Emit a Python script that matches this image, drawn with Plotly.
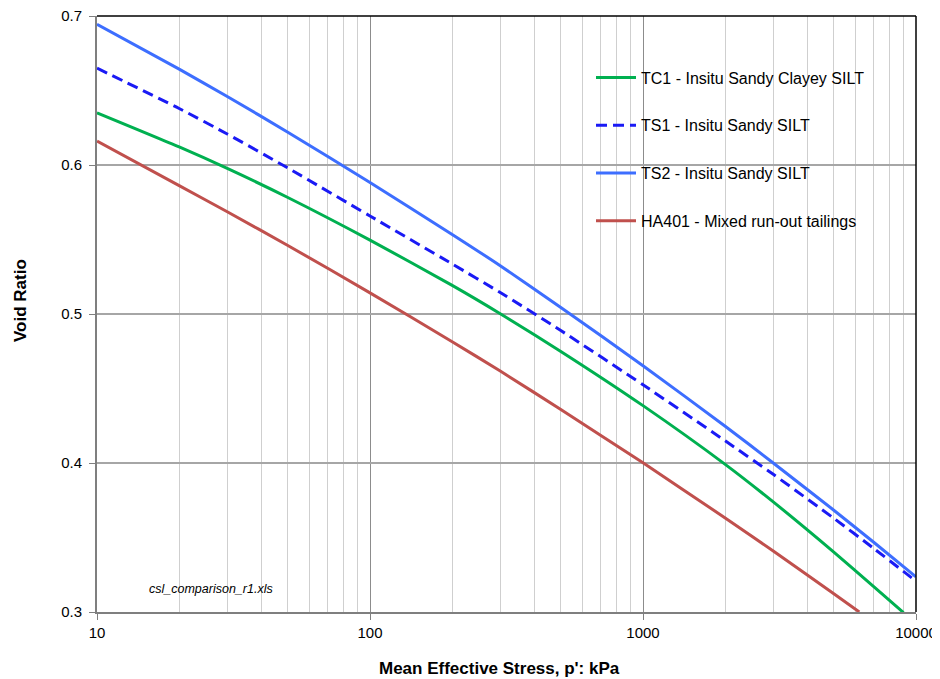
import plotly.graph_objects as go

# ---- data ----
p_ts = [10, 20, 30, 50, 100, 200, 300, 500, 1000, 2000, 3000, 5000, 7000, 10000]
ts2 = [0.6944, 0.6643, 0.6460, 0.6220, 0.5883, 0.5534, 0.5324, 0.5044, 0.4653, 0.4247, 0.4000, 0.3683, 0.3468, 0.3236]
ts1 = [0.6650, 0.6379, 0.6208, 0.5980, 0.5658, 0.5336, 0.5144, 0.4889, 0.4525, 0.4149, 0.3924, 0.3629, 0.3427, 0.3207]
p_tc1 = [10, 20, 30, 50, 100, 200, 300, 500, 1000, 2000, 3000, 5000, 7000, 9000]
tc1 = [0.6350, 0.6121, 0.5977, 0.5782, 0.5496, 0.5192, 0.5002, 0.4749, 0.4385, 0.3991, 0.3739, 0.3402, 0.3171, 0.2996]
p_ha = [10, 20, 30, 50, 100, 200, 300, 500, 1000, 2000, 3000, 5000, 6200]
ha401 = [0.6160, 0.5862, 0.5686, 0.5460, 0.5142, 0.4814, 0.4617, 0.4359, 0.4001, 0.3631, 0.3409, 0.3123, 0.3000]

names = ["TC1 - Insitu Sandy Clayey SILT", "TS1 - Insitu Sandy SILT",
         "TS2 - Insitu Sandy SILT", "HA401 - Mixed run-out tailings"]
y_ticks = [0.3, 0.4, 0.5, 0.6, 0.7]
x_ticks = [10, 100, 1000, 10000]

FONT = "Liberation Sans, Arial, sans-serif"

# the page puts the figure 8px in from the top-left (body margin)
W, H = 940, 679
L, T, R, B = 89, 8, 32, 75
pw, ph = W - L - R, H - T - B


def px(page_x):
    return (page_x - 8 - L) / pw


def py(page_y):
    return 1 - (page_y - 8 - T) / ph


fig = go.Figure()
series = [
    (p_tc1, tc1, names[0], "#00B050", "solid"),
    (p_ts, ts1, names[1], "#1A1AF5", "11px,6px"),
    (p_ts, ts2, names[2], "#3D6EFF", "solid"),
    (p_ha, ha401, names[3], "#C0504D", "solid"),
]
for i, (x, y, n, c, d) in enumerate(series):
    fig.add_trace(go.Scatter(x=x, y=y, name=n, mode="lines",
                             line=dict(color=c, width=3, dash=d, shape="spline", smoothing=0.6),
                             legendgroup=str(i)))

fig.update_layout(
    width=W, height=H,
    margin=dict(l=L, r=R, t=T, b=B, autoexpand=False),
    paper_bgcolor="white", plot_bgcolor="white",
    font=dict(family=FONT, size=15, color="#000"),
    showlegend=True,
    legend=dict(x=px(591), y=py(60.5), xanchor="left", yanchor="top",
                bgcolor="rgba(0,0,0,0)", borderwidth=0,
                font=dict(family=FONT, size=16, color="#000"),
                tracegroupgap=24, itemwidth=40),
    xaxis=dict(type="log", range=[1, 4], tickvals=x_ticks,
               ticktext=[str(v) for v in x_ticks], automargin=False,
               ticklabeloverflow="allow",
               showgrid=True, gridcolor="#8C8C8C", gridwidth=1,
               minor=dict(dtick="D1", showgrid=True, gridcolor="#CFCFCF", gridwidth=1,
                          ticks=""),
               showline=True, linecolor="#7F7F7F", linewidth=2,
               ticks="outside", ticklen=6, tickcolor="#7F7F7F",
               zeroline=False),
    yaxis=dict(range=[0.3, 0.7], tickvals=y_ticks,
               ticktext=[str(v) for v in y_ticks], automargin=False,
               ticklabeloverflow="allow",
               showgrid=True, gridcolor="#A6A6A6", gridwidth=1.5,
               showline=True, linecolor="#7F7F7F", linewidth=2,
               ticks="outside", ticklen=6, tickcolor="#7F7F7F",
               ticklabelstandoff=4, zeroline=False),
    shapes=[
        # legend background box
        dict(type="rect", xref="paper", yref="paper", x0=px(561), x1=px(888),
             y0=py(245), y1=py(55), fillcolor="white", line=dict(width=0), layer="between"),
        # file-name label background
        dict(type="rect", xref="x", yref="y", x0=1.12, x1=1.74, y0=0.3, y1=0.3268,
             fillcolor="white", line=dict(width=0), layer="between"),
        # top and right frame lines
        dict(type="line", xref="paper", yref="paper", x0=0, x1=1, y0=1, y1=1,
             line=dict(color="black", width=1.5), layer="above"),
        dict(type="line", xref="paper", yref="paper", x0=1, x1=1, y0=0, y1=1,
             line=dict(color="black", width=1.5), layer="above"),
    ],
    annotations=[
        dict(text="<i>csl_comparison_r1.xls</i>", xref="x", yref="y", x=1.418, y=0.3152,
             showarrow=False, font=dict(family=FONT, size=12.5, color="#000"),
             xanchor="center", yanchor="middle"),
        dict(text="<b>Void Ratio</b>", xref="paper", yref="paper",
             x=px(20), y=py(301), textangle=-90,
             showarrow=False, font=dict(family=FONT, size=17, color="#000"),
             xanchor="center", yanchor="middle"),
        dict(text="<b>Mean Effective Stress, p': kPa</b>", xref="paper", yref="paper",
             x=px(499), y=py(669), yanchor="middle",
             showarrow=False, font=dict(family=FONT, size=17, color="#000"),
             xanchor="center"),
    ],
)

fig.write_html("out.html")
